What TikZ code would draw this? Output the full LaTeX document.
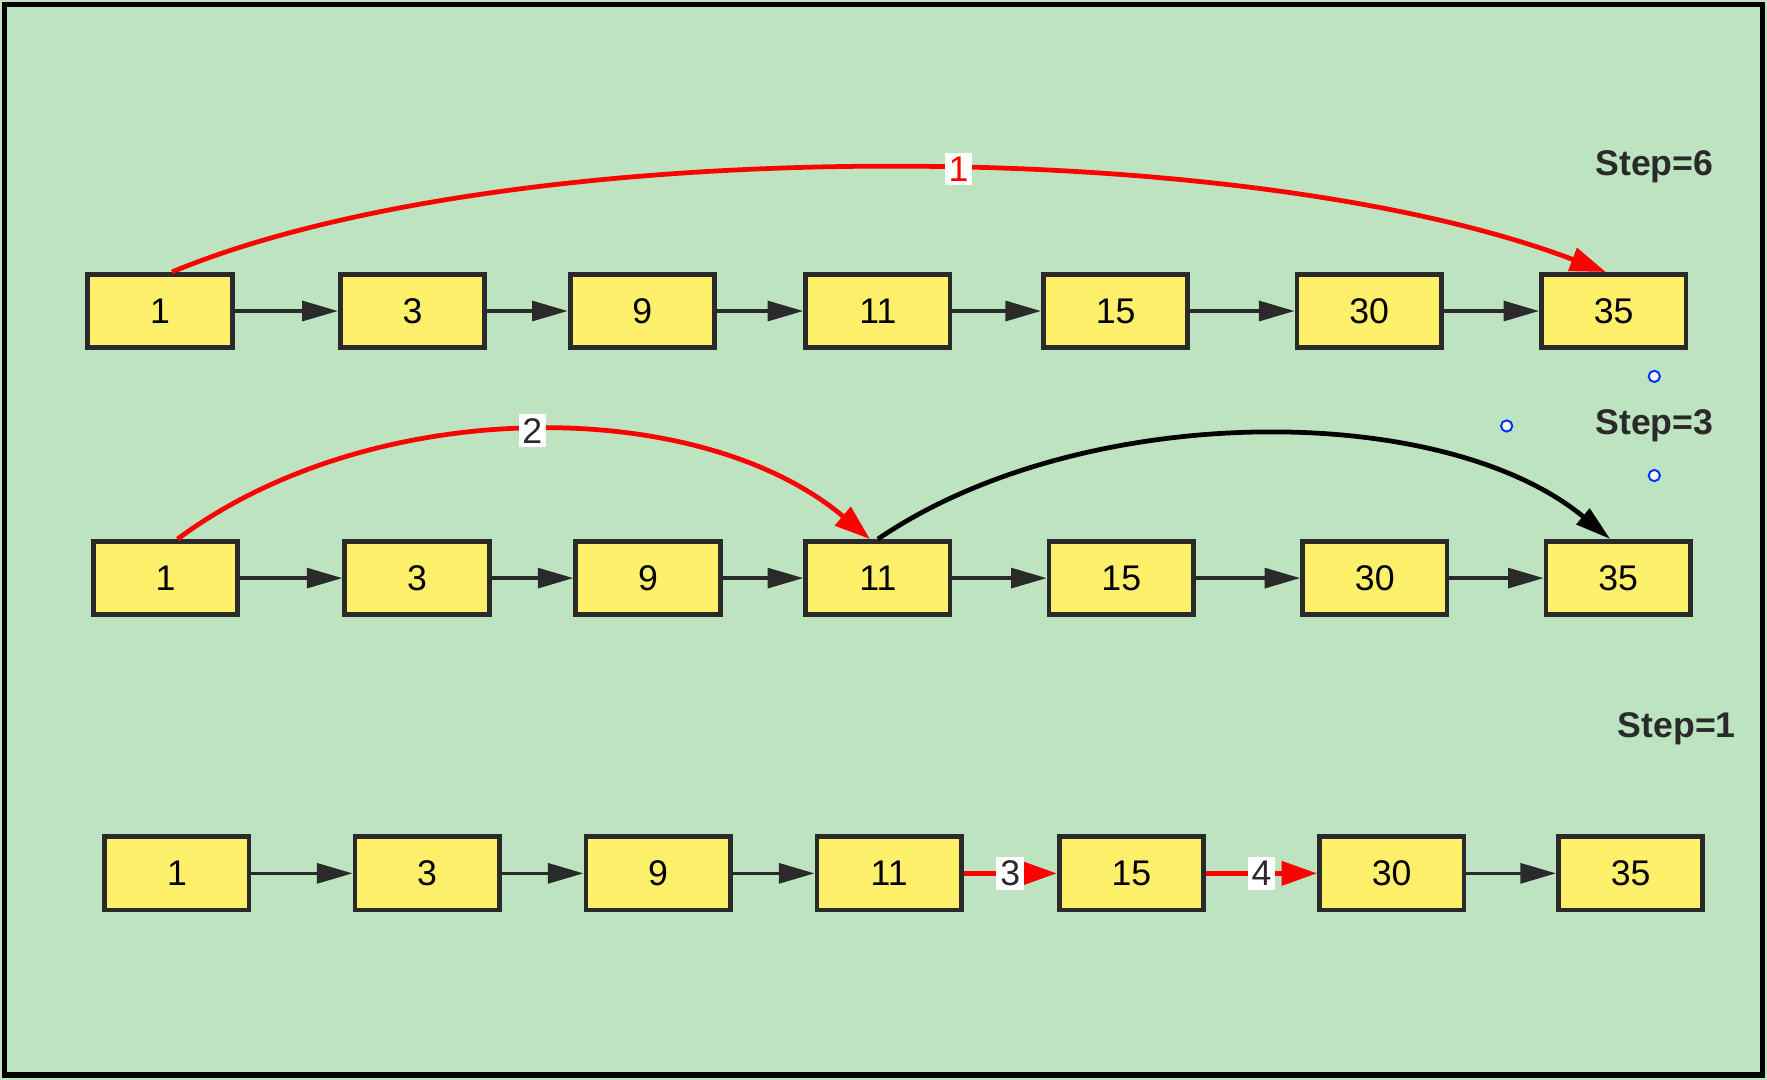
\documentclass[tikz,border=0pt]{standalone}
\usepackage{fontspec}
\setmainfont{Liberation Sans}
\usetikzlibrary{arrows.meta}
\definecolor{bggreen}{HTML}{BEE3C0}
\definecolor{boxyellow}{HTML}{FFF06C}
\definecolor{boxline}{HTML}{2A2A2A}
\tikzset{
  cell/.style={draw=boxline,fill=boxyellow,line width=1.2pt,minimum width=1.28cm,minimum height=0.65cm,inner sep=0pt,font=\fontsize{9}{9}\selectfont},
  link/.style={draw=boxline,line width=0.9pt,-{Triangle[length=9pt,width=5pt]}},
  redlink/.style={draw=red,line width=1.2pt,-{Triangle[length=9pt,width=6pt]}},
  tag/.style={fill=white,inner sep=1pt,font=\fontsize{9}{9}\selectfont},
  steplabel/.style={font=\bfseries\fontsize{9}{9}\selectfont,text=boxline},
  handle/.style={draw=blue!80!cyan,line width=0.5pt,fill=white}
}
\begin{document}
\begin{tikzpicture}[x=0.01cm,y=-0.01cm]
	% background
	\fill[bggreen] (0,0) rectangle (1568,958);
	\draw[line width=1.5pt] (4,4) rectangle (1564,954);
	% step labels
	\node[steplabel] (s6) at (1468,148) {Step=6};
	\node[steplabel] (s3) at (1468,378) {Step=3};
	\node[steplabel] (s1) at (1488,647) {Step=1};
	% row 1
	\foreach \v/\x [count=\i] in {1/142,3/366,9/570,11/779,15/990,30/1215,35/1432}
		\node[cell] (a\i) at (\x,276) {\v};
	% row 2
	\foreach \v/\x [count=\i] in {1/147,3/370,9/575,11/779,15/995,30/1220,35/1436}
		\node[cell] (b\i) at (\x,513) {\v};
	% row 3
	\foreach \v/\x [count=\i] in {1/157,3/379,9/584,11/789,15/1004,30/1235,35/1447}
		\node[cell] (c\i) at (\x,775) {\v};
	% straight links
	\foreach \i/\j in {1/2,2/3,3/4,4/5,5/6,6/7} {
		\draw[link] (a\i) -- (a\j);
		\draw[link] (b\i) -- (b\j);
	}
	\foreach \i/\j in {1/2,2/3,3/4,6/7}
		\draw[link] (c\i) -- (c\j);
	\draw[redlink] (c4) -- node[tag,text=boxline]{3} (c5);
	\draw[redlink] (c5) -- node[tag,text=boxline]{4} (c6);
	% jumps
	\draw[redlink] ([xshift=3]a1.north) .. controls (450,118) and (1100,118) .. node[tag,text=red,pos=0.55]{1} ([xshift=-2]a7.north);
	\draw[redlink] ([xshift=3]b1.north) .. controls (330,350) and (620,350) .. node[tag,text=boxline]{2} ([xshift=-2]b4.north);
	\draw[link,draw=black,line width=1.2pt] (b4.north) .. controls (960,355) and (1280,355) .. ([xshift=-2]b7.north);
	% selection handles
	\foreach \p in {(1468,334),(1337,378),(1468,422)}
		\draw[handle] \p circle (5);
\end{tikzpicture}
\end{document}
